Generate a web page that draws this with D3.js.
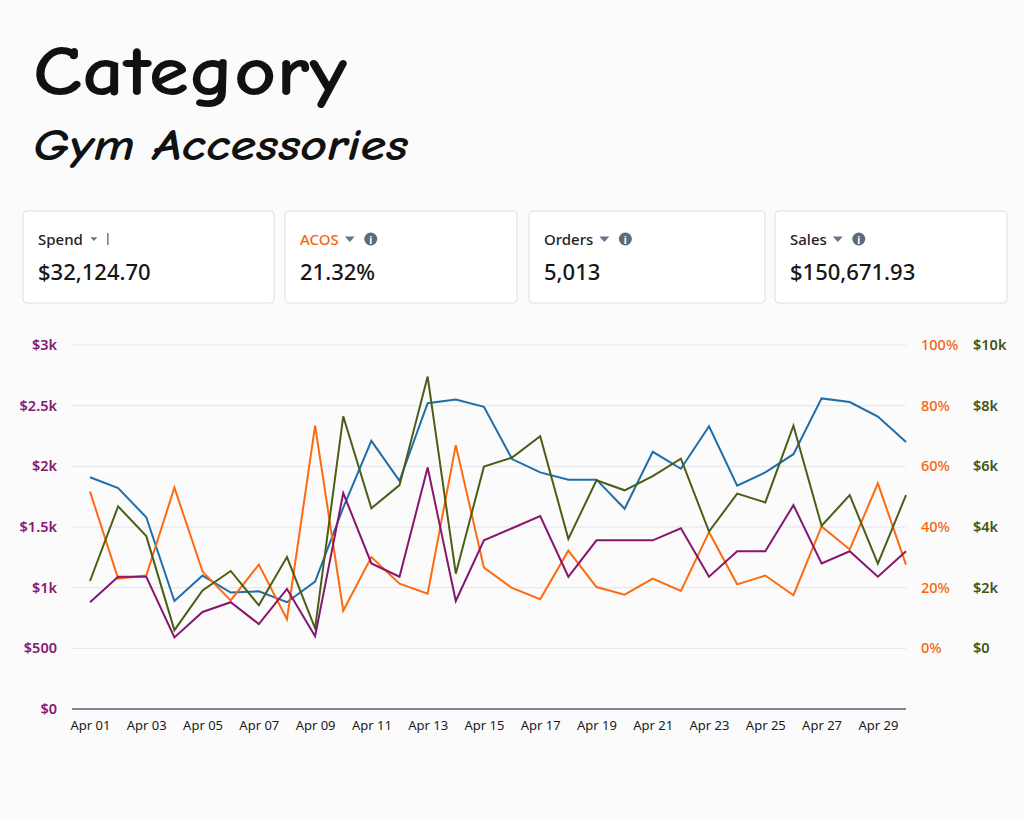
<!DOCTYPE html>
<html>
<head>
<meta charset="utf-8">
<script src="https://cdnjs.cloudflare.com/ajax/libs/d3/7.8.5/d3.min.js"></script>
<style>
  body { margin: 0; background: #fbfbfb; }
  svg { display: block; }
</style>
</head>
<body>
<div id="chart"></div>
<script>
  "use strict";
  // days shown on the x axis
  var days = ["Apr 01","Apr 02","Apr 03","Apr 04","Apr 05","Apr 06","Apr 07","Apr 08","Apr 09","Apr 10",
              "Apr 11","Apr 12","Apr 13","Apr 14","Apr 15","Apr 16","Apr 17","Apr 18","Apr 19","Apr 20",
              "Apr 21","Apr 22","Apr 23","Apr 24","Apr 25","Apr 26","Apr 27","Apr 28","Apr 29","Apr 30"];
  // series
  var spend  = [880,1090,1090,590,800,880,700,990,600,1780,1200,1090,1990,890,1390,1490,1590,1090,1390,1390,
                1390,1490,1090,1300,1300,1680,1200,1300,1090,1300];
  var acos   = [51.7,23.0,24.0,53.0,25.3,15.8,27.6,9.6,73.4,12.4,30.1,21.3,18.0,67.0,26.6,19.9,16.2,32.2,20.2,17.7,
                23.0,18.9,38.3,21.1,24.0,17.5,40.2,32.6,54.4,27.6];
  var orders = [191,182,158,89,110,96,97,88,105,166,221,188,252,255,249,206,195,189,189,165,
                212,198,233,184,195,210,256,253,241,220];
  var sales  = [2220,4680,3700,600,1910,2550,1420,3010,660,7650,4620,5380,8960,2460,5990,6290,6990,3610,5540,5210,
                5680,6250,3850,5100,4810,7340,4040,5050,2790,5050];
  // tick labels
  var spendTicks = [0,500,1000,1500,2000,2500,3000];
  var acosTicks  = [0,20,40,60,80,100];
  var salesTicks = [0,2000,4000,6000,8000,10000];
  // summary cards
  var cardLabels = ["Spend","ACOS","Orders","Sales"];
  var cardValues = ["$32,124.70","21.32%","5,013","$150,671.93"];

  var W = 1024, H = 819;
  var svg = d3.select("#chart").append("svg").attr("width", W).attr("height", H);
  var font = "'Noto Sans', 'Open Sans', sans-serif";

  //title, hand-written look
  svg.append("text").attr("x", 33).attr("y", 95)
    .style("font-family", "'Comic Sans MS','Comic Neue','DejaVu Sans',sans-serif")
    .style("font-weight", "bold").style("font-size", "70px").attr("fill", "#111")
    .attr("textLength", 314).attr("lengthAdjust", "spacingAndGlyphs")
    .text("Category");
  svg.append("text").attr("x", 33).attr("y", 160)
    .style("font-family", "'Comic Sans MS','Comic Neue','DejaVu Sans',sans-serif")
    .style("font-style", "italic").style("font-weight", "bold").style("font-size", "44px").attr("fill", "#111")
    .attr("textLength", 375).attr("lengthAdjust", "spacingAndGlyphs")
    .text("Gym Accessories");

  //cards
  var cardX = [23, 285, 529, 775], cardW = [251, 232, 236, 232];
  var cards = svg.selectAll("g.card").data(cardLabels).enter().append("g")
    .attr("class", "card")
    .attr("transform", function (d, i) { return "translate(" + cardX[i] + ",211)"; });
  cards.append("rect").attr("width", function (d, i) { return cardW[i]; }).attr("height", 92)
    .attr("rx", 4).attr("fill", "#fff").attr("stroke", "#dedede");
  var lab = cards.append("text").attr("x", 15).attr("y", 34)
    .style("font-family", font).style("font-size", "15px").style("font-weight", 500)
    .attr("fill", function (d) { return d === "ACOS" ? "#f7640c" : "#222"; })
    .text(function (d) { return d; });
  cards.append("text").attr("x", 15).attr("y", 69)
    .style("font-family", font).style("font-size", "22px").style("font-weight", 500).attr("fill", "#161616")
    .text(function (d, i) { return cardValues[i]; });
  lab.each(function (d) {
    var g = d3.select(this.parentNode);
    var w = this.getComputedTextLength() + 15;
    var small = d === "Spend";
    var s = small ? 3.5 : 5;
    var ax = w + 11;
    g.append("path").attr("d", "M" + (ax - s) + "," + (28 - s * 0.5) + "L" + (ax + s) + "," + (28 - s * 0.5) + "L" + ax + "," + (28 + s * 0.6) + "Z")
      .attr("fill", "#6b7385");
    if (small) {
      g.append("line").attr("x1", ax + 14).attr("x2", ax + 14).attr("y1", 22).attr("y2", 34)
        .attr("stroke", "#5a6375").attr("stroke-width", 1.3);
    } else {
      g.append("circle").attr("cx", ax + 21).attr("cy", 28).attr("r", 6.5).attr("fill", "#5f6b7d");
      g.append("text").attr("x", ax + 21).attr("y", 32.5).attr("text-anchor", "middle")
        .style("font-family", font).style("font-size", "10px").style("font-weight", "bold")
        .attr("fill", "#fff").text("i");
    }
  });

  //scales
  var x = d3.scalePoint().domain(days).range([90, 906]);
  var ySpend = d3.scaleLinear().domain([0, 3000]).range([709, 345]);
  var yOrders = d3.scaleLinear().domain([0, 300]).range([709, 345]);
  var yAcos = d3.scaleLinear().domain([0, 100]).range([ySpend(500), 345]);
  var ySales = d3.scaleLinear().domain([0, 10000]).range([ySpend(500), 345]);

  //gridlines
  svg.append("g").selectAll("line").data(spendTicks.slice(1)).enter().append("line")
    .attr("x1", 72).attr("x2", 906)
    .attr("y1", function (d) { return ySpend(d); }).attr("y2", function (d) { return ySpend(d); })
    .attr("stroke", "#e3e4ea").attr("stroke-width", 1);

  //left axis
  var yl = d3.axisLeft(ySpend).tickValues(spendTicks).tickSize(0).tickPadding(0)
    .tickFormat(function (d) { return d === 0 ? "$0" : d < 1000 ? "$" + d : "$" + d / 1000 + "k"; });
  var gl = svg.append("g").attr("transform", "translate(57,0)").call(yl);
  gl.select(".domain").remove();
  gl.selectAll("text").style("font-family", font).style("font-size", "14.5px").style("font-weight", 600).attr("fill", "#86186f");

  //right axes
  var ya = d3.axisRight(yAcos).tickValues(acosTicks).tickSize(0).tickPadding(0)
    .tickFormat(function (d) { return d + "%"; });
  var ga = svg.append("g").attr("transform", "translate(921,0)").call(ya);
  ga.select(".domain").remove();
  ga.selectAll("text").style("font-family", font).style("font-size", "14.5px").style("font-weight", 500).attr("fill", "#f7640c");

  var ys = d3.axisRight(ySales).tickValues(salesTicks).tickSize(0).tickPadding(0)
    .tickFormat(function (d) { return d === 0 ? "$0" : "$" + d / 1000 + "k"; });
  var gs = svg.append("g").attr("transform", "translate(973,0)").call(ys);
  gs.select(".domain").remove();
  gs.selectAll("text").style("font-family", font).style("font-size", "14.5px").style("font-weight", 600).attr("fill", "#435516");

  //x axis
  var xa = d3.axisBottom(x).tickValues(days.filter(function (d, i) { return i % 2 === 0; })).tickSize(0).tickPadding(12);
  var gx = svg.append("g").attr("transform", "translate(0,709)").call(xa);
  gx.select(".domain").remove();
  gx.selectAll("text").style("font-family", font).style("font-size", "13px").attr("fill", "#1a1a1a");
  svg.append("line").attr("x1", 72).attr("x2", 906).attr("y1", 709).attr("y2", 709)
    .attr("stroke", "#7d879b").attr("stroke-width", 2);

  //lines
  var series = [
    { vals: orders, y: yOrders, color: "#1f6eab" },
    { vals: acos, y: yAcos, color: "#ff6a10" },
    { vals: sales, y: ySales, color: "#4a5e18" },
    { vals: spend, y: ySpend, color: "#86176f" }
  ];
  series.forEach(function (s) {
    var line = d3.line().x(function (d, i) { return x(days[i]); }).y(function (d) { return s.y(d); });
    svg.append("path").datum(s.vals).attr("d", line)
      .attr("fill", "none").attr("stroke", s.color).attr("stroke-width", 2).attr("stroke-linejoin", "miter");
  });
</script>
</body>
</html>
